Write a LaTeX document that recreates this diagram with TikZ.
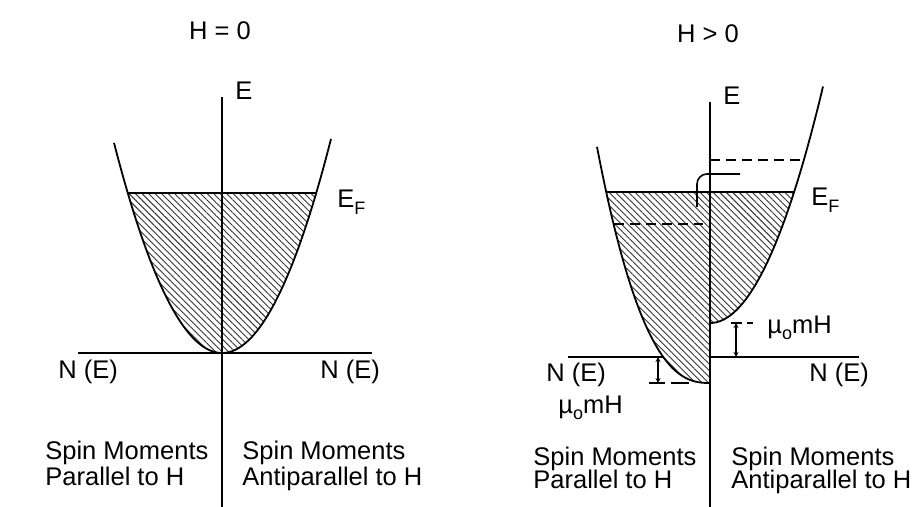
\documentclass[tikz,border=0pt]{standalone}
\usepackage{fontspec}
\setmainfont{Liberation Sans}
\usetikzlibrary{positioning,patterns.meta,arrows.meta}

\tikzset{
  lbl/.style={inner sep=0pt, font=\fontsize{12.75}{13}\selectfont},
  axis/.style={line width=0.8pt},
  band/.style={line width=0.9pt},
  hatch/.style={pattern={Lines[angle=-45,distance=2.3pt,line width=0.45pt]}, pattern color=black!80},
  level/.style={line width=0.8pt, dash pattern=on 5pt off 3pt},
  gap/.style={line width=0.7pt, {Stealth[length=2.5pt,width=2.5pt]}-{Stealth[length=2.5pt,width=2.5pt]}},
}
\newcommand\lowsub[1]{\raisebox{-0.45ex}{\fontsize{9}{9}\selectfont #1}}

\begin{document}
\begin{tikzpicture}[x=0.5pt,y=-0.5pt]
\useasboundingbox (0,0) rectangle (913,507);

% H = 0 : both spin bands at the same level
\coordinate (eTopL) at (222,97);
\coordinate (eBotL) at (222,507);
\coordinate (nLeftL) at (78,353);
\coordinate (nRightL) at (372,353);
\coordinate (efL1) at (127.8,193);
\coordinate (efL2) at (316.2,193);

\fill[hatch] plot[domain=-94.2:94.2, samples=60] ({222+\x},{353-\x*\x/55.5}) -- cycle;
\draw[band] plot[domain=-108:109, samples=80] ({222+\x},{353-\x*\x/55.5});
\draw[axis] (eTopL) -- (eBotL);
\draw[axis] (nLeftL) -- (nRightL);
\draw[band] (efL1) -- (efL2);

\node[lbl, anchor=base] (hZero) at (220,40) {H = 0};
\node[lbl, anchor=base west] (eL) at (235,100) {E};
\node[lbl, anchor=base west] (efL) at (337,208) {E\lowsub{F}};
\node[lbl, anchor=base west] (nEl) at (58,378) {N (E)};
\node[lbl, anchor=base west] (nEr) at (320,378) {N (E)};
\node[lbl, anchor=base west] (spinPa) at (45,459) {Spin Moments};
\node[lbl, anchor=base west] (spinPb) at (45,485) {Parallel to H};
\node[lbl, anchor=base west] (spinAa) at (242,459) {Spin Moments};
\node[lbl, anchor=base west] (spinAb) at (242,485) {Antiparallel to H};

% H > 0 : bands shifted by mu_0 m H
\coordinate (eTopR) at (710,102);
\coordinate (eBotR) at (710,507);
\coordinate (nLeftR) at (568,357);
\coordinate (nCutR) at (663.3,357);
\coordinate (nMidR) at (710,357);
\coordinate (nRightR) at (859,357);
\coordinate (efR1) at (606.3,192);
\coordinate (efR2) at (794,192);
\coordinate (oldUp1) at (710,160);
\coordinate (oldUp2) at (804,160);
\coordinate (oldDn1) at (613.5,224);
\coordinate (oldDn2) at (703,224);

\fill[hatch] plot[domain=0:103.7, samples=60] ({710-\x},{383-(\x/12.7)*(\x/12.7)*sqrt(\x/12.7)}) -- (710,192) -- cycle;
\fill[hatch] plot[domain=0:84.1, samples=60] ({710+\x},{323-\x*\x/54}) -- (710,192) -- cycle;
\draw[band] plot[domain=0:113, samples=80] ({710-\x},{383-(\x/12.7)*(\x/12.7)*sqrt(\x/12.7)});
\draw[band] plot[domain=0:113, samples=80] ({710+\x},{323-\x*\x/54});
\draw[axis] (eTopR) -- (eBotR);
\draw[axis] (nLeftR) -- (nCutR);
\draw[axis] (nMidR) -- (nRightR);
\draw[band] (efR1) -- (efR2);
\draw[level] (oldUp1) -- (oldUp2);
\draw[level] (oldDn1) -- (oldDn2);

% electrons flipping from one band to the other
\coordinate (flipA) at (740,174);
\coordinate (flipK) at (697,174);
\coordinate (flipB) at (697,207);
\draw[axis, rounded corners=5pt] (flipA) -- (flipK) -- (flipB);

% band shifts
\coordinate (gapLt) at (658,357);
\coordinate (gapLb) at (658,383);
\draw[gap] (gapLt) -- (gapLb);
\draw[axis] (649,383) -- (665,383);
\draw[axis] (671,383) -- (689,383);
\coordinate (gapRt) at (736,323);
\coordinate (gapRb) at (736,357);
\draw[gap] (gapRt) -- (gapRb);
\draw[axis] (731,323) -- (742,323);
\draw[axis] (747,323) -- (753,323);

\node[lbl, anchor=base] (hPos) at (708,43) {H > 0};
\node[lbl, anchor=base west] (eR) at (723,105) {E};
\node[lbl, anchor=base west] (efR) at (811,206) {E\lowsub{F}};
\node[lbl, anchor=base west] (nErl) at (546,381) {N (E)};
\node[lbl, anchor=base west] (nErr) at (809,381) {N (E)};
\node[lbl, anchor=base west] (shiftDn) at (558,413) {µ\lowsub{o}mH};
\node[lbl, anchor=base west] (shiftUp) at (767,333) {µ\lowsub{o}mH};
\node[lbl, anchor=base west] (spinRPa) at (533,465) {Spin Moments};
\node[lbl, anchor=base west] (spinRPb) at (533,488) {Parallel to H};
\node[lbl, anchor=base west] (spinRAa) at (731,465) {Spin Moments};
\node[lbl, anchor=base west] (spinRAb) at (731,488) {Antiparallel to H};

\end{tikzpicture}
\end{document}
